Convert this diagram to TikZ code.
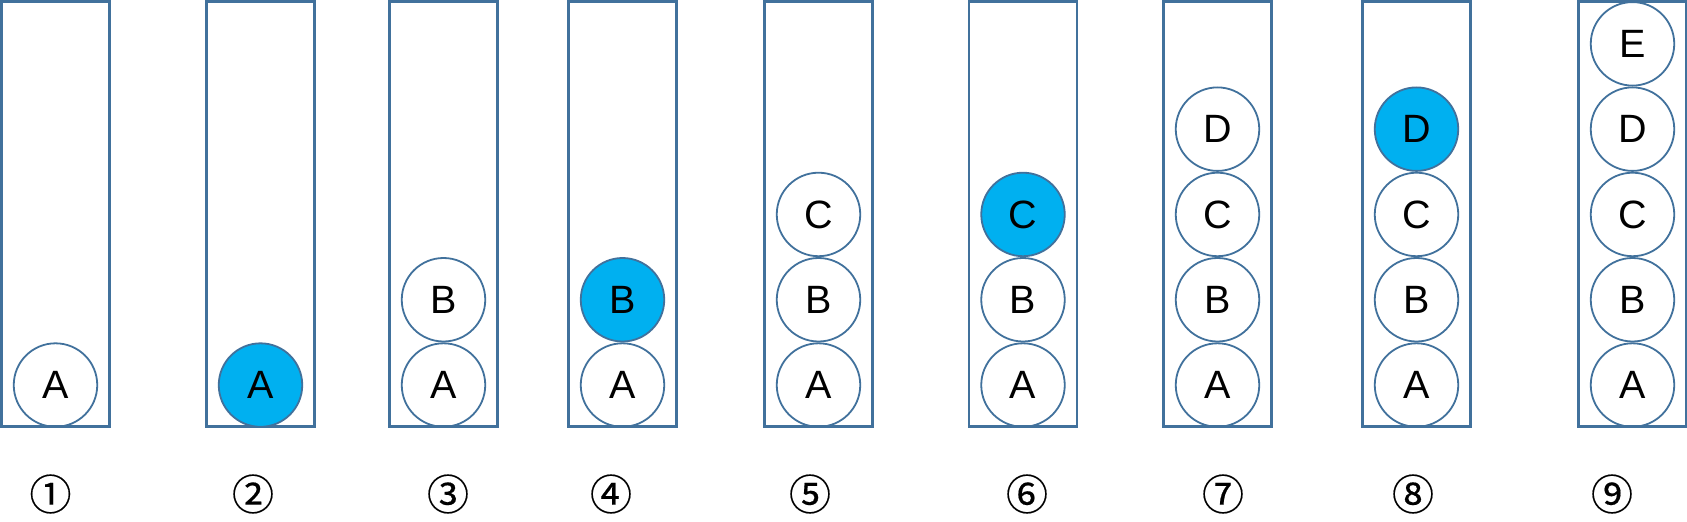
\documentclass[tikz,border=0pt]{standalone}
\usepackage{fontspec}
\setmainfont{Liberation Sans}
\newfontfamily\cjk[FakeBold=0.4]{Noto Sans CJK SC}
\usetikzlibrary{positioning}
\definecolor{pilebord}{HTML}{41719C}
\definecolor{topfill}{HTML}{00B0F0}

\begin{document}
\begin{tikzpicture}[x=1pt, y=-1pt, node distance = 0pt]
     \tikzset{Pile/.style  = {draw   = pilebord,
                              line width = 2.4pt,
                              minimum width  = 108pt,
                              minimum height = 425pt,
                              inner sep = 0pt},
              Elem/.style  = {circle,
                              draw   = pilebord,
                              line width = 1.8pt,
                              minimum size = 83.5pt,
                              inner sep = 0pt,
                              font = \fontsize{39.5}{42}\selectfont},
              Top/.style   = {Elem, fill = topfill},
              Step/.style  = {font = \cjk\fontsize{42}{44}\selectfont}}
     \useasboundingbox (0,0) rectangle (1687,522);
     % piles
     \node[Pile] (P1) at (55.5,214)  {};
     \node[Pile] (P2) at (260.5,214) {};
     \node[Pile] (P3) at (443.5,214) {};
     \node[Pile] (P4) at (622.5,214) {};
     \node[Pile] (P5) at (818.5,214) {};
     \node[Pile] (P6) at (1023,214)  {};
     \node[Pile] (P7) at (1217.5,214) {};
     \node[Pile] (P8) at (1416.5,214) {};
     \node[Pile] (P9) at (1632.5,214) {};
     % elements
     \node[Elem, anchor=south] (A1) at (P1.south) {A};
     \node[Top,  anchor=south] (A2) at (P2.south) {A};
     \node[Elem, anchor=south] (A3) at (P3.south) {A};
     \node[Elem, above = of A3] (B3) {B};
     \node[Elem, anchor=south] (A4) at (P4.south) {A};
     \node[Top,  above = of A4] (B4) {B};
     \node[Elem, anchor=south] (A5) at (P5.south) {A};
     \node[Elem, above = of A5] (B5) {B};
     \node[Elem, above = of B5] (C5) {C};
     \node[Elem, anchor=south] (A6) at (P6.south) {A};
     \node[Elem, above = of A6] (B6) {B};
     \node[Top,  above = of B6] (C6) {C};
     \node[Elem, anchor=south] (A7) at (P7.south) {A};
     \node[Elem, above = of A7] (B7) {B};
     \node[Elem, above = of B7] (C7) {C};
     \node[Elem, above = of C7] (D7) {D};
     \node[Elem, anchor=south] (A8) at (P8.south) {A};
     \node[Elem, above = of A8] (B8) {B};
     \node[Elem, above = of B8] (C8) {C};
     \node[Top,  above = of C8] (D8) {D};
     \node[Elem, anchor=south] (A9) at (P9.south) {A};
     \node[Elem, above = of A9] (B9) {B};
     \node[Elem, above = of B9] (C9) {C};
     \node[Elem, above = of C9] (D9) {D};
     \node[Elem, above = of D9] (E9) {E};
     % numeros des etapes
     \node[Step] (S1) at (50.5,494) {①};
     \node[Step] (S2) at (253,494)  {②};
     \node[Step] (S3) at (448,494)  {③};
     \node[Step] (S4) at (611,494)  {④};
     \node[Step] (S5) at (810,494)  {⑤};
     \node[Step] (S6) at (1027,494) {⑥};
     \node[Step] (S7) at (1223,494) {⑦};
     \node[Step] (S8) at (1413,494) {⑧};
     \node[Step] (S9) at (1612,494) {⑨};
  \end{tikzpicture}
\end{document}
